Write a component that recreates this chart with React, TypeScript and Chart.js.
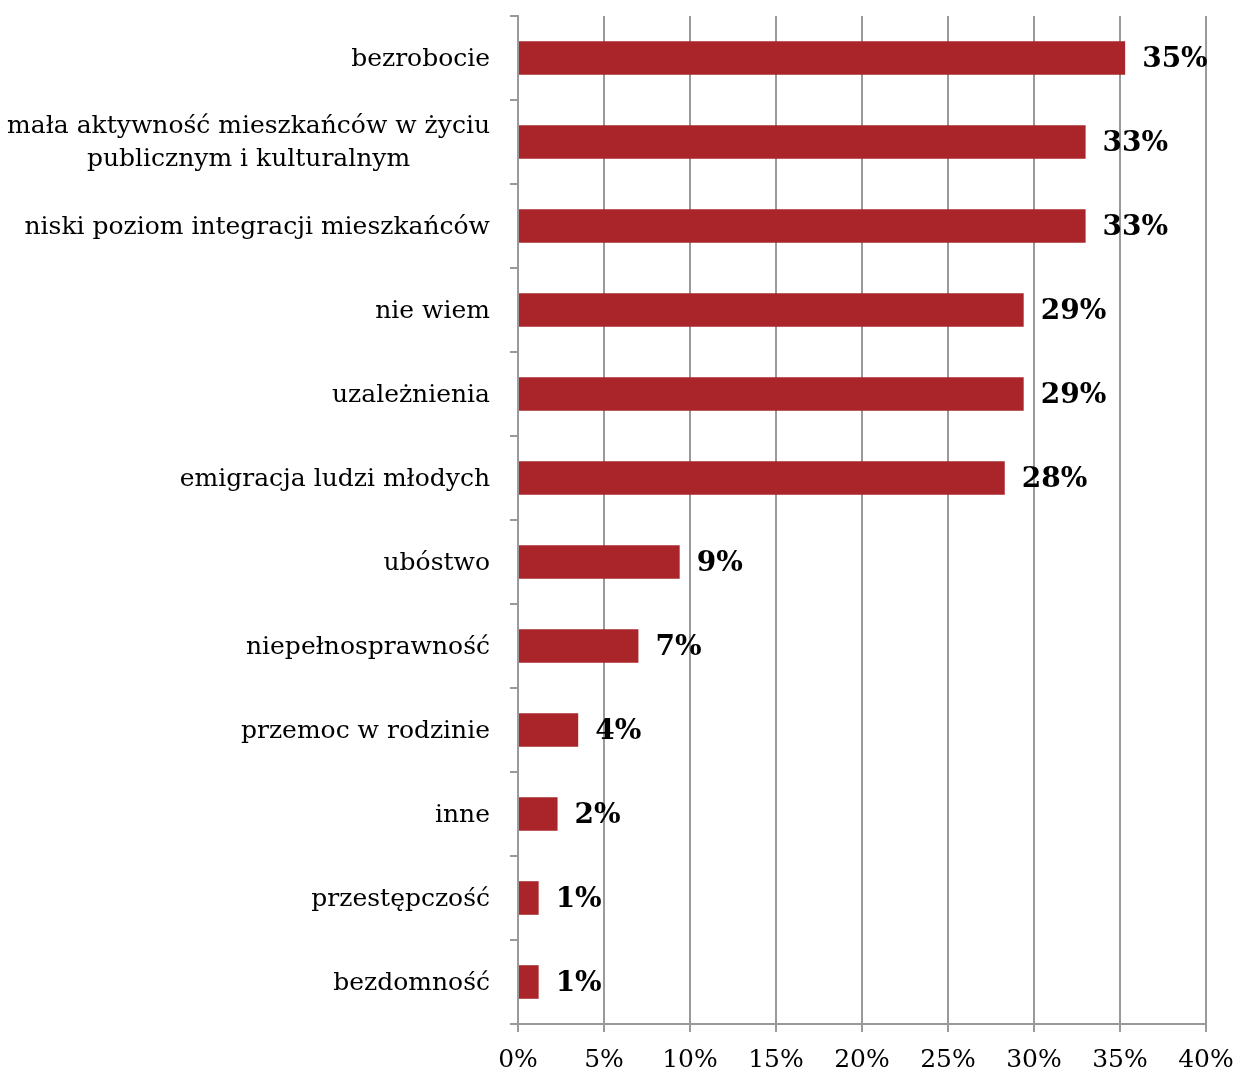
import React, { useEffect, useRef } from "react";
import { Chart, registerables } from "chart.js";

Chart.register(...registerables);

const categories: (string | string[])[] = [
  "bezrobocie",
  ["mała aktywność mieszkańców w życiu", "publicznym i kulturalnym"],
  "niski poziom integracji mieszkańców",
  "nie wiem",
  "uzależnienia",
  "emigracja ludzi młodych",
  "ubóstwo",
  "niepełnosprawność",
  "przemoc w rodzinie",
  "inne",
  "przestępczość",
  "bezdomność",
];

const values: number[] = [35.3, 33.0, 33.0, 29.4, 29.4, 28.3, 9.4, 7.0, 3.5, 2.3, 1.2, 1.2];

const xTicks: number[] = [0, 5, 10, 15, 20, 25, 30, 35, 40];

const FONT = '"DejaVu Serif", "Liberation Serif", serif';
const BAR_COLOR = "#A9252A";
const GRID_COLOR = "#9a9a9a";

const labelsPlugin = {
  id: "customLabels",
  afterDraw(chart: any) {
    const ctx = chart.ctx as CanvasRenderingContext2D;
    const yScale = chart.scales.y;
    ctx.save();
    ctx.fillStyle = "#000";
    ctx.textBaseline = "middle";
    // category labels
    ctx.font = `25px ${FONT}`;
    const rightEdge = yScale.right - 8 - 20;
    categories.forEach((lab, i) => {
      const y = yScale.getPixelForValue(i) + 1;
      const lines = Array.isArray(lab) ? lab : [lab];
      const widths = lines.map((l) => ctx.measureText(l).width);
      const maxW = Math.max(...widths);
      const lh = 33;
      lines.forEach((l, j) => {
        const ly = y + (j - (lines.length - 1) / 2) * lh;
        ctx.textAlign = "center";
        ctx.fillText(l, rightEdge - maxW / 2, ly);
      });
    });
    // data labels
    ctx.font = `bold 28px ${FONT}`;
    ctx.textAlign = "left";
    const meta = chart.getDatasetMeta(0);
    meta.data.forEach((bar: any, i: number) => {
      ctx.fillText(Math.round(values[i]) + "%", bar.x + 17, bar.y + 2);
    });
    ctx.restore();
  },
};

export default function App() {
  const ref = useRef<HTMLCanvasElement>(null);
  useEffect(() => {
    if (!ref.current) return;
    const chart = new Chart(ref.current, {
      type: "bar",
      data: {
        labels: categories as any,
        datasets: [
          {
            data: values,
            backgroundColor: BAR_COLOR,
            borderWidth: 0,
            categoryPercentage: 1,
            barPercentage: 0.4,
          },
        ],
      },
      options: {
        indexAxis: "y",
        animation: false,
        responsive: true,
        maintainAspectRatio: false,
        layout: { padding: { top: 16, right: 33, left: 0, bottom: 0 } },
        plugins: {
          legend: { display: false },
          tooltip: { enabled: false },
        },
        scales: {
          x: {
            min: 0,
            max: 40,
            afterBuildTicks: (scale: any) => {
              scale.ticks = xTicks.map((v) => ({ value: v }));
            },
            afterFit: (scale: any) => {
              scale.height = 51;
            },
            ticks: {
              stepSize: 5,
              color: "#000",
              padding: 0,
              font: { family: FONT, size: 25, lineHeight: 2.24 },
              callback: (v: any) => v + "%",
              maxRotation: 0,
            },
            grid: {
              color: GRID_COLOR,
              lineWidth: 2,
              tickLength: 8,
              drawOnChartArea: true,
            },
            border: { color: GRID_COLOR, width: 2 },
          },
          y: {
            afterFit: (scale: any) => {
              scale.width = 518;
            },
            ticks: { display: false },
            grid: {
              offset: true,
              drawOnChartArea: false,
              color: GRID_COLOR,
              lineWidth: 2,
              tickLength: 8,
            },
            border: { color: GRID_COLOR, width: 2 },
          },
        },
      },
      plugins: [labelsPlugin],
    });
    return () => chart.destroy();
  }, []);
  return (
    <div style={{ position: "fixed", left: 0, top: 0, width: 1239, height: 1075, background: "#fff" }}>
      <canvas ref={ref} />
    </div>
  );
}
